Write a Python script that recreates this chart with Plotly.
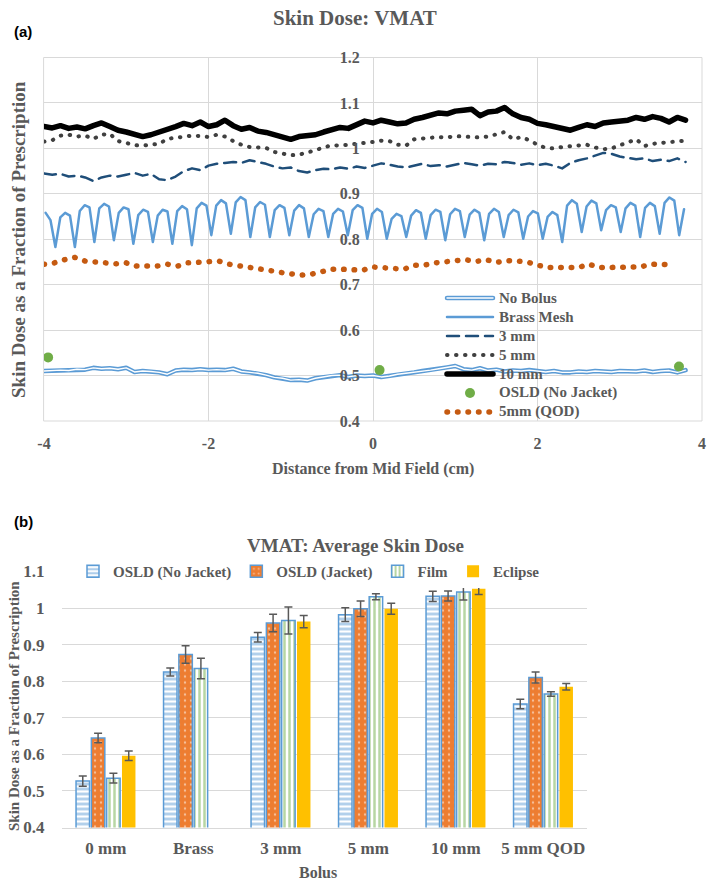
import numpy as np
import plotly.graph_objects as go

# ---------------- Panel (a) data ----------------
grid_start, grid_step = -4.0, 0.1

no_bolus = [0.510, 0.511, 0.512, 0.511, 0.514, 0.513, 0.517, 0.515, 0.516, 0.514,
            0.517, 0.508, 0.510, 0.509, 0.507, 0.503, 0.511, 0.513, 0.512, 0.514,
            0.512, 0.513, 0.512, 0.515, 0.509, 0.507, 0.505, 0.501, 0.496, 0.494,
            0.490, 0.491, 0.489, 0.494, 0.497, 0.500, 0.501, 0.497, 0.500, 0.499,
            0.500, 0.497, 0.499, 0.503, 0.505, 0.507, 0.510, 0.512, 0.515, 0.518,
            0.521, 0.514, 0.512, 0.516, 0.511, 0.513, 0.509, 0.511, 0.510, 0.512,
            0.510, 0.508, 0.510, 0.507, 0.507, 0.509, 0.508, 0.510, 0.509, 0.508,
            0.510, 0.509, 0.509, 0.511, 0.508, 0.510, 0.511, 0.507, 0.512]

mm3 = [0.945, 0.942, 0.944, 0.938, 0.940, 0.936, 0.928, 0.936, 0.940, 0.938,
       0.942, 0.946, 0.940, 0.944, 0.932, 0.930, 0.938, 0.950, 0.956, 0.952,
       0.962, 0.966, 0.968, 0.970, 0.968, 0.974, 0.970, 0.966, 0.960, 0.956,
       0.958, 0.950, 0.947, 0.952, 0.955, 0.954, 0.958, 0.955, 0.960, 0.957,
       0.962, 0.967, 0.964, 0.960, 0.958, 0.962, 0.966, 0.961, 0.963, 0.960,
       0.964, 0.968, 0.965, 0.962, 0.966, 0.965, 0.970, 0.968, 0.964, 0.967,
       0.963, 0.966, 0.962, 0.956, 0.968, 0.974, 0.978, 0.984, 0.990, 0.988,
       0.982, 0.979, 0.976, 0.978, 0.972, 0.975, 0.972, 0.978, 0.970]

mm5 = [1.015, 1.018, 1.028, 1.030, 1.026, 1.028, 1.021, 1.030, 1.032, 1.016,
       1.012, 1.007, 1.006, 1.007, 1.010, 1.021, 1.024, 1.026, 1.028, 1.027,
       1.025, 1.030, 1.026, 1.016, 1.008, 1.003, 1.002, 1.001, 0.992, 0.988,
       0.985, 0.986, 0.990, 0.996, 1.002, 1.007, 1.006, 1.008, 1.009, 1.010,
       1.014, 1.017, 1.016, 1.008, 1.006, 1.020, 1.022, 1.024, 1.025, 1.024,
       1.027, 1.026, 1.024, 1.024, 1.026, 1.030, 1.036, 1.020, 1.025, 1.018,
       1.008, 1.001, 1.000, 1.003, 1.005, 1.006, 1.008, 1.002, 0.998, 1.000,
       1.006, 1.014, 1.020, 1.005, 1.010, 1.012, 1.014, 1.016, 1.017]

mm10 = [1.048, 1.045, 1.050, 1.044, 1.047, 1.043, 1.050, 1.056, 1.048, 1.040,
        1.036, 1.030, 1.026, 1.030, 1.035, 1.042, 1.048, 1.055, 1.050, 1.058,
        1.048, 1.052, 1.062, 1.050, 1.042, 1.046, 1.038, 1.035, 1.030, 1.024,
        1.020, 1.026, 1.028, 1.030, 1.036, 1.040, 1.046, 1.044, 1.052, 1.060,
        1.056, 1.062, 1.058, 1.054, 1.056, 1.064, 1.068, 1.072, 1.078, 1.076,
        1.082, 1.084, 1.086, 1.072, 1.080, 1.082, 1.090, 1.076, 1.068, 1.064,
        1.055, 1.052, 1.048, 1.046, 1.040, 1.046, 1.052, 1.048, 1.056, 1.058,
        1.060, 1.062, 1.068, 1.064, 1.070, 1.066, 1.058, 1.068, 1.062]

brass_start, brass_step = -3.98, 0.05925
brass = [0.858, 0.842, 0.783, 0.848, 0.858, 0.852, 0.783, 0.862, 0.875, 0.870,
         0.794, 0.868, 0.878, 0.872, 0.798, 0.858, 0.870, 0.866, 0.790, 0.853,
         0.865, 0.860, 0.794, 0.852, 0.865, 0.861, 0.790, 0.862, 0.873, 0.866,
         0.787, 0.868, 0.880, 0.874, 0.809, 0.874, 0.886, 0.879, 0.812, 0.881,
         0.893, 0.886, 0.805, 0.870, 0.882, 0.876, 0.805, 0.864, 0.875, 0.869,
         0.809, 0.863, 0.875, 0.868, 0.805, 0.855, 0.867, 0.862, 0.805, 0.856,
         0.867, 0.861, 0.809, 0.864, 0.875, 0.869, 0.801, 0.856, 0.867, 0.860,
         0.801, 0.845, 0.856, 0.851, 0.805, 0.852, 0.864, 0.858, 0.801, 0.853,
         0.865, 0.860, 0.798, 0.855, 0.867, 0.862, 0.805, 0.854, 0.865, 0.858,
         0.798, 0.856, 0.867, 0.860, 0.805, 0.853, 0.865, 0.859, 0.801, 0.850,
         0.862, 0.857, 0.801, 0.849, 0.860, 0.853, 0.794, 0.874, 0.886, 0.878,
         0.816, 0.872, 0.885, 0.879, 0.820, 0.864, 0.875, 0.870, 0.816, 0.868,
         0.880, 0.874, 0.805, 0.869, 0.880, 0.873, 0.812, 0.880, 0.892, 0.885,
         0.809, 0.866]

qod_start, qod_step = -4.0, 0.125
qod = [0.745, 0.748, 0.755, 0.760, 0.752, 0.751, 0.748, 0.746, 0.748, 0.741,
       0.740, 0.741, 0.745, 0.741, 0.748, 0.750, 0.753, 0.752, 0.745, 0.742,
       0.740, 0.735, 0.731, 0.727, 0.723, 0.721, 0.723, 0.727, 0.734, 0.734,
       0.733, 0.732, 0.739, 0.738, 0.736, 0.734, 0.743, 0.743, 0.748, 0.750,
       0.754, 0.755, 0.751, 0.755, 0.749, 0.753, 0.752, 0.750, 0.743, 0.738,
       0.738, 0.739, 0.738, 0.745, 0.738, 0.738, 0.739, 0.741, 0.739, 0.745,
       0.746, 0.744]

osld_x = [-3.95, 0.08, 3.72]
osld_y = [0.540, 0.512, 0.520]

x_ticks_a = [-4, -2, 0, 2, 4]
x_ticktext_a = ["-4", "-2", "0", "2", "4"]
legend_names_a = ["No Bolus", "Brass Mesh", "3 mm", "5 mm", "10 mm",
                  "OSLD (No Jacket)", "5mm (QOD)"]

# ---------------- Panel (b) data ----------------
bolus = ["0 mm", "Brass", "3 mm", "5 mm", "10 mm", "5 mm QOD"]
osld_nj = [0.527, 0.825, 0.920, 0.982, 1.032, 0.738]
osld_nj_err = [0.014, 0.011, 0.013, 0.019, 0.014, 0.013]
osld_j = [0.645, 0.873, 0.959, 0.998, 1.033, 0.810]
osld_j_err = [0.013, 0.024, 0.024, 0.021, 0.014, 0.015]
film = [0.535, 0.835, 0.966, 1.031, 1.044, 0.765]
film_err = [0.013, 0.028, 0.037, 0.008, 0.022, 0.006]
eclipse = [0.596, None, 0.963, 0.998, 1.053, 0.785]
eclipse_err = [0.013, None, 0.017, 0.015, 0.016, 0.009]

# ---------------- styling ----------------
SERIF = "Liberation Serif"
GREY = "#595959"
GRID = "#D9D9D9"
BLUE = "#5B9BD5"
NAVY = "#1F4E79"
DKGREY = "#404040"
ORANGE = "#ED7D31"
DKORANGE = "#C55A11"
GREEN = "#70AD47"
GOLD = "#FFC000"
W, H = 709, 882

styles_a = {
    "No Bolus": dict(color=BLUE, width=4.5),
    "Brass Mesh": dict(color=BLUE, width=2.5),
    "3 mm": dict(color=NAVY, width=2.5, dash="12px,7px"),
    "5 mm": dict(color=DKGREY, width=4, dash="0.5px,8.5px"),
    "10 mm": dict(color="black", width=5.5),
    "5mm (QOD)": dict(color=DKORANGE, width=5.5, dash="0.5px,10px"),
}


def xs(start, step, n):
    return np.round(start + step * np.arange(n), 4)


fig = go.Figure()
x_grid = xs(grid_start, grid_step, len(no_bolus))

fig.add_trace(go.Scatter(x=x_grid, y=no_bolus, mode="lines", name="No Bolus",
                         line=styles_a["No Bolus"], showlegend=False))
fig.add_trace(go.Scatter(x=x_grid, y=no_bolus, mode="lines", name="No Bolus (inner)",
                         line=dict(color="white", width=1.4), showlegend=False,
                         hoverinfo="skip"))
fig.add_trace(go.Scatter(x=xs(brass_start, brass_step, len(brass)), y=brass,
                         mode="lines", name="Brass Mesh", line=styles_a["Brass Mesh"],
                         showlegend=False))
fig.add_trace(go.Scatter(x=xs(grid_start, grid_step, len(mm3)), y=mm3, mode="lines",
                         name="3 mm", line=styles_a["3 mm"], showlegend=False))
fig.add_trace(go.Scatter(x=xs(grid_start, grid_step, len(mm5)), y=mm5, mode="lines",
                         name="5 mm", line=styles_a["5 mm"], showlegend=False))
fig.add_trace(go.Scatter(x=xs(grid_start, grid_step, len(mm10)), y=mm10, mode="lines",
                         name="10 mm", line=styles_a["10 mm"], showlegend=False))
fig.add_trace(go.Scatter(x=osld_x, y=osld_y, mode="markers", name="OSLD (No Jacket)",
                         marker=dict(color=GREEN, size=10), showlegend=False))
fig.add_trace(go.Scatter(x=xs(qod_start, qod_step, len(qod)), y=qod, mode="lines",
                         name="5mm (QOD)", line=styles_a["5mm (QOD)"],
                         showlegend=False))

# ---------------- bars ----------------
err_style = dict(type="data", color=GREY, thickness=1.5, width=4, visible=True)
fig.add_trace(go.Bar(
    x=bolus, y=osld_nj, name="OSLD (No Jacket)", xaxis="x2", yaxis="y2",
    marker=dict(color="white", line=dict(color=BLUE, width=1.5),
                pattern=dict(shape="-", fgcolor=BLUE, bgcolor="white", size=5,
                             solidity=0.55)),
    error_y=dict(array=osld_nj_err, **err_style)))
fig.add_trace(go.Bar(
    x=bolus, y=osld_j, name="OSLD (Jacket)", xaxis="x2", yaxis="y2",
    marker=dict(color=ORANGE, line=dict(color=BLUE, width=1.5),
                pattern=dict(shape=".", fgcolor="white", bgcolor=ORANGE, size=6,
                             solidity=0.12)),
    error_y=dict(array=osld_j_err, **err_style)))
fig.add_trace(go.Bar(
    x=bolus, y=film, name="Film", xaxis="x2", yaxis="y2",
    marker=dict(color="white", line=dict(color=BLUE, width=1.5),
                pattern=dict(shape="|", fgcolor=GREEN, bgcolor="white", size=5,
                             solidity=0.5)),
    error_y=dict(array=film_err, **err_style)))
fig.add_trace(go.Bar(
    x=bolus, y=eclipse, name="Eclipse", xaxis="x2", yaxis="y2",
    marker=dict(color=GOLD, line=dict(color=GOLD, width=0)),
    error_y=dict(array=eclipse_err, **err_style)))

tickfont_a = dict(family=SERIF, size=16, color=GREY, weight="bold")
tickfont_b = dict(family=SERIF, size=17, color=GREY, weight="bold")
ax_dom = [44 / W, 702 / W]

fig.update_layout(
    width=W, height=H, margin=dict(l=0, r=0, t=0, b=0, autoexpand=False),
    paper_bgcolor="white", plot_bgcolor="white",
    barmode="group", bargap=0.30, bargroupgap=0.12,
    xaxis=dict(domain=ax_dom, range=[-4, 4], tickvals=x_ticks_a,
               ticktext=x_ticktext_a, showgrid=True, gridcolor=GRID, gridwidth=1,
               zeroline=False, showline=False, automargin=False,
               ticks="outside", ticklen=8, tickcolor="rgba(0,0,0,0)",
               tickfont=tickfont_a, anchor="y"),
    yaxis=dict(domain=[1 - 421 / H, 1 - 57.5 / H], range=[0.4, 1.2], dtick=0.1,
               showgrid=True, gridcolor=GRID, gridwidth=1, zeroline=False,
               showline=False, anchor="free", automargin=False,
               position=ax_dom[0] + 0.5 * (ax_dom[1] - ax_dom[0]),
               ticks="outside", ticklen=10, tickcolor="rgba(0,0,0,0)",
               tickfont=tickfont_a),
    xaxis2=dict(domain=[62 / W, 587 / W], anchor="y2", type="category",
                showgrid=False, showline=True, linecolor=GRID, linewidth=1,
                automargin=False, ticks="outside", ticklen=5,
                tickcolor="rgba(0,0,0,0)", tickfont=tickfont_b),
    yaxis2=dict(domain=[1 - 827.5 / H, 1 - 571.5 / H], range=[0.4, 1.1], dtick=0.1,
                anchor="x2", showgrid=True, gridcolor=GRID, gridwidth=1,
                zeroline=False, showline=False, automargin=False,
                ticks="outside", ticklen=13, tickcolor="rgba(0,0,0,0)",
                tickfont=tickfont_b),
    legend=dict(orientation="h", x=73 / W, y=1 - 571.5 / H, xanchor="left",
                yanchor="middle", bgcolor="white", itemwidth=30,
                font=dict(family=SERIF, size=15, color=GREY, weight="bold")),
    showlegend=True,
)

# plot-area border of panel (a)
shapes = [dict(type="rect", xref="x domain", yref="y domain", x0=0, x1=1, y0=0, y1=1,
               line=dict(color=GRID, width=1), layer="below")]

# ---- hand-drawn legend for panel (a) (compact Excel-like rows) ----
leg_x0, leg_x1, leg_text_x, leg_top, leg_row = 447, 493, 497, 298, 19
ann_font = dict(family=SERIF, color=GREY, weight="bold")
annotations = []
for i, name in enumerate(legend_names_a):
    yp = 1 - (leg_top + i * leg_row) / H
    if name == "OSLD (No Jacket)":
        cx = (leg_x0 + leg_x1) / 2
        shapes.append(dict(type="circle", xref="paper", yref="paper",
                           x0=(cx - 5) / W, x1=(cx + 5) / W,
                           y0=yp - 5 / H, y1=yp + 5 / H,
                           fillcolor=GREEN, line=dict(width=0), layer="above"))
    else:
        shapes.append(dict(type="line", xref="paper", yref="paper",
                           x0=leg_x0 / W, x1=leg_x1 / W, y0=yp, y1=yp,
                           line=styles_a[name], layer="above"))
        if name == "No Bolus":
            shapes.append(dict(type="line", xref="paper", yref="paper",
                               x0=leg_x0 / W, x1=leg_x1 / W, y0=yp, y1=yp,
                               line=dict(color="white", width=1.4), layer="above"))
    annotations.append(dict(text=name, x=leg_text_x / W, y=yp, xanchor="left",
                            yanchor="middle", font=dict(size=15, **ann_font)))

annotations += [
    dict(text="(a)", x=12 / W, y=1 - 32 / H, xanchor="left", yanchor="middle",
         font=dict(family="Liberation Sans", size=15, color="black", weight="bold")),
    dict(text="Skin Dose: VMAT", x=355 / W, y=1 - 18 / H, xanchor="center",
         yanchor="middle", font=dict(size=21, **ann_font)),
    dict(text="Skin Dose as a Fraction of Prescription", x=18 / W, y=1 - 240 / H,
         textangle=-90, xanchor="center", yanchor="middle",
         font=dict(size=19, **ann_font)),
    dict(text="Distance from Mid Field (cm)", x=373 / W, y=1 - 469 / H,
         xanchor="center", yanchor="middle", font=dict(size=16, **ann_font)),
    dict(text="(b)", x=12 / W, y=1 - 521 / H, xanchor="left", yanchor="middle",
         font=dict(family="Liberation Sans", size=15, color="black", weight="bold")),
    dict(text="VMAT: Average Skin Dose", x=355 / W, y=1 - 545 / H, xanchor="center",
         yanchor="middle", font=dict(size=19, **ann_font)),
    dict(text="Skin Dose as a Fraction of Prescription", x=14 / W, y=1 - 706 / H,
         textangle=-90, xanchor="center", yanchor="middle",
         font=dict(size=15, **ann_font)),
    dict(text="Bolus", x=318 / W, y=1 - 872 / H, xanchor="center", yanchor="middle",
         font=dict(size=16, **ann_font)),
]
for a in annotations:
    a.update(xref="paper", yref="paper", showarrow=False)
fig.update_layout(annotations=annotations, shapes=shapes)

post = ("var s=document.createElement('style');"
        "s.textContent='html,body{margin:0;padding:0}'"
        "+' path.js-line, .shapelayer path{stroke-linecap:round;stroke-linejoin:round}';"
        "document.head.appendChild(s);")
fig.write_html("out.html", post_script=post, config={"displayModeBar": False})
